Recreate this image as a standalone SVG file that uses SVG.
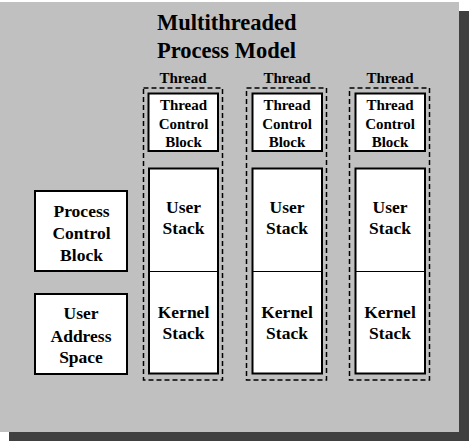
<svg xmlns="http://www.w3.org/2000/svg" width="469" height="441" viewBox="0 0 469 441">
  <style>
    .t { font-family: 'Liberation Serif', 'DejaVu Serif', serif; font-weight: bold; fill: #000; text-anchor: middle; }
    .title { font-size: 22.5px; text-anchor: start; }
    .sm { font-size: 15px; }
    .lg { font-size: 17.5px; }
    .box { fill: #fff; stroke: #000; stroke-width: 2; }
    .div { stroke: #000; stroke-width: 1; }
    .dash { fill: none; stroke: #000; stroke-width: 1.5; stroke-dasharray: 5 3; }
  </style>
  <rect x="0" y="0" width="469" height="441" fill="#fff"/>
  <rect id="shadow" x="9" y="11" width="460" height="430" fill="#404040"/>
  <rect id="panel" x="0" y="2" width="459" height="430" fill="#c0c0c0"/>

  <g id="title">
    <text class="t title" x="157" y="30">Multithreaded</text>
    <text class="t title" x="157" y="58">Process Model</text>
  </g>

  <g id="pcb">
    <rect class="box" x="35" y="191" width="92" height="80"/>
    <text class="t lg" x="81.5" y="217">Process</text>
    <text class="t lg" x="81.5" y="239">Control</text>
    <text class="t lg" x="81.5" y="261">Block</text>
  </g>

  <g id="uas">
    <rect class="box" x="35" y="294" width="92" height="80"/>
    <text class="t lg" x="81" y="319">User</text>
    <text class="t lg" x="81" y="342">Address</text>
    <text class="t lg" x="81" y="363">Space</text>
  </g>

  <g id="thread1">
    <text class="t sm" x="183" y="83">Thread</text>
    <rect class="dash" x="143.5" y="88" width="79" height="292"/>
    <rect class="box" x="148.5" y="93.5" width="69.5" height="57.5"/>
    <text class="t sm" x="183.5" y="110">Thread</text>
    <text class="t sm" x="183.5" y="128.5">Control</text>
    <text class="t sm" x="183.5" y="147">Block</text>
    <rect class="box" x="149" y="168.5" width="69" height="205"/>
    <line class="div" x1="149" y1="271.5" x2="218" y2="271.5"/>
    <text class="t lg" x="183.5" y="213">User</text>
    <text class="t lg" x="183.5" y="234">Stack</text>
    <text class="t lg" x="183.5" y="318">Kernel</text>
    <text class="t lg" x="183.5" y="339">Stack</text>
  </g>

  <g id="thread2">
    <text class="t sm" x="287" y="83">Thread</text>
    <rect class="dash" x="246.5" y="88" width="80" height="292"/>
    <rect class="box" x="252.5" y="93.5" width="69.5" height="57.5"/>
    <text class="t sm" x="287" y="110">Thread</text>
    <text class="t sm" x="287" y="128.5">Control</text>
    <text class="t sm" x="287" y="147">Block</text>
    <rect class="box" x="252.5" y="168.5" width="69.5" height="205"/>
    <line class="div" x1="252.5" y1="271.5" x2="322" y2="271.5"/>
    <text class="t lg" x="287" y="213">User</text>
    <text class="t lg" x="287" y="234">Stack</text>
    <text class="t lg" x="287" y="318">Kernel</text>
    <text class="t lg" x="287" y="339">Stack</text>
  </g>

  <g id="thread3">
    <text class="t sm" x="390" y="83">Thread</text>
    <rect class="dash" x="349.5" y="88" width="80" height="292"/>
    <rect class="box" x="355.5" y="93.5" width="69.5" height="57.5"/>
    <text class="t sm" x="390" y="110">Thread</text>
    <text class="t sm" x="390" y="128.5">Control</text>
    <text class="t sm" x="390" y="147">Block</text>
    <rect class="box" x="355.5" y="168.5" width="69.5" height="205"/>
    <line class="div" x1="355.5" y1="271.5" x2="425" y2="271.5"/>
    <text class="t lg" x="390" y="213">User</text>
    <text class="t lg" x="390" y="234">Stack</text>
    <text class="t lg" x="390" y="318">Kernel</text>
    <text class="t lg" x="390" y="339">Stack</text>
  </g>

  <g id="connectors"></g>
</svg>
